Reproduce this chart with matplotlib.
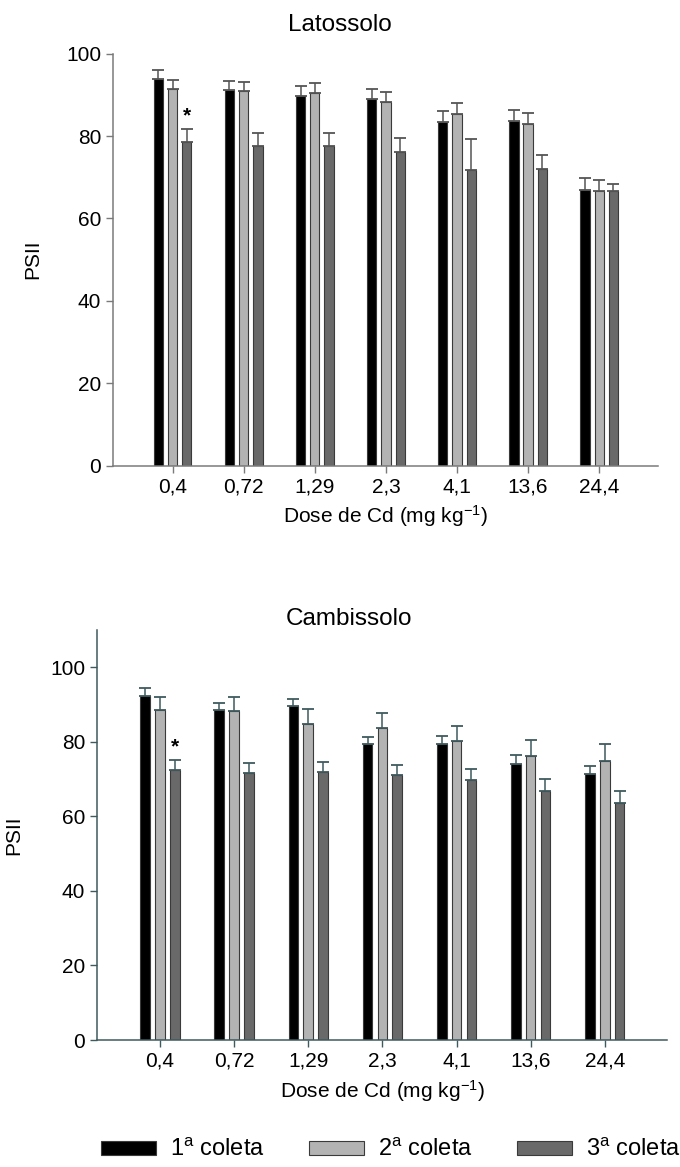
import numpy as np
import matplotlib
matplotlib.use("Agg")
import matplotlib.pyplot as plt
from matplotlib.patches import Patch

plt.rcParams['font.family'] = ['Liberation Sans', 'DejaVu Sans']
plt.rcParams['mathtext.fontset'] = 'custom'
plt.rcParams['mathtext.rm'] = 'Liberation Sans'
plt.rcParams['mathtext.it'] = 'Liberation Sans:italic'

# Data
doses = ["0,4", "0,72", "1,29", "2,3", "4,1", "13,6", "24,4"]
series = ["1$^{\\mathrm{a}}$ coleta", "2$^{\\mathrm{a}}$ coleta", "3$^{\\mathrm{a}}$ coleta"]

lat_1 = [93.8, 91.2, 89.7, 89.0, 83.3, 83.7, 66.9]
lat_2 = [91.4, 90.9, 90.5, 88.2, 85.4, 82.9, 66.6]
lat_3 = [78.6, 77.6, 77.6, 76.2, 71.7, 72.0, 66.7]
lat_1_err = [2.2, 2.1, 2.5, 2.4, 2.7, 2.6, 3.0]
lat_2_err = [2.1, 2.2, 2.3, 2.4, 2.6, 2.8, 2.7]
lat_3_err = [3.0, 3.2, 3.2, 3.3, 7.7, 3.4, 1.7]

cam_1 = [92.3, 88.5, 89.5, 79.3, 79.4, 74.1, 71.4]
cam_2 = [88.5, 88.3, 84.8, 83.7, 80.3, 76.2, 74.9]
cam_3 = [72.4, 71.5, 71.9, 71.0, 69.7, 66.8, 63.5]
cam_1_err = [2.0, 1.8, 1.9, 1.9, 2.1, 2.3, 2.2]
cam_2_err = [3.5, 3.7, 3.9, 4.0, 3.9, 4.3, 4.4]
cam_3_err = [2.7, 2.9, 2.8, 2.9, 3.0, 3.1, 3.3]

COLORS = ['#000000', '#b3b3b3', '#696969']
EDGE = '#3a3a3a'
FS = 15


def draw_panel(ax, vals, errs, spine_color, err_color, ylim, yticks, xlim):
    x = np.arange(len(doses))
    offsets = [-0.2, 0.0, 0.2]
    for v, e, c, off in zip(vals, errs, COLORS, offsets):
        ax.bar(x + off, v, width=0.13, color=c, edgecolor=EDGE, linewidth=0.8, zorder=2)
        ax.errorbar(x + off, v, yerr=[np.zeros(len(v)), e], fmt='none',
                    ecolor=err_color, elinewidth=1.1, capsize=4, capthick=1.3, zorder=3)
    ax.set_xlim(*xlim)
    ax.set_ylim(*ylim)
    ax.set_yticks(yticks)
    ax.set_xticks(x)
    ax.set_xticklabels(doses)
    for s in ['top', 'right']:
        ax.spines[s].set_visible(False)
    for s in ['left', 'bottom']:
        ax.spines[s].set_color(spine_color)
        ax.spines[s].set_linewidth(1.1)
    ax.tick_params(axis='both', colors=spine_color, labelcolor='black',
                   labelsize=FS, length=5, width=1.0, direction='out')
    ax.set_xlabel("Dose de Cd (mg kg$^{-1}$)", fontsize=FS, labelpad=5)
    ax.set_ylabel("PSII", fontsize=FS)
    ax.yaxis.set_label_coords(-0.13, 0.5)
    # significance mark above the 3rd bar of the first group
    ax.text(x[0] + offsets[2], vals[2][0] + errs[2][0] + 1.0, "*",
            ha='center', va='bottom', fontsize=FS, fontweight='bold')


fig = plt.figure(figsize=(6.8, 11.67), dpi=100)

ax1 = fig.add_axes([0.166, 0.601, 0.802, 0.353])
draw_panel(ax1, [lat_1, lat_2, lat_3], [lat_1_err, lat_2_err, lat_3_err],
           '#7a7a7a', '#555555', (0, 100), range(0, 101, 20), (-0.84, 6.83))
fig.text(340 / 680, 1 - 25 / 1167, "Latossolo", ha='center', va='center', fontsize=17.5)

ax2 = fig.add_axes([0.1426, 0.1088, 0.8384, 0.3514])
draw_panel(ax2, [cam_1, cam_2, cam_3], [cam_1_err, cam_2_err, cam_3_err],
           '#3f5a5e', '#3f5a5e', (0, 110), range(0, 101, 20), (-0.85, 6.84))
fig.text(349 / 680, 1 - 619 / 1167, "Cambissolo", ha='center', va='center', fontsize=17.5)

handles = [Patch(facecolor=c, edgecolor=EDGE, linewidth=0.8) for c in COLORS]
fig.legend(handles, series, loc='center', bbox_to_anchor=(391 / 680, 1 - 1150 / 1167),
           ncol=3, frameon=False, fontsize=17, handlelength=2.33, handleheight=0.53,
           handletextpad=0.6, columnspacing=1.86, borderaxespad=0, borderpad=0)

fig.savefig("out.png", dpi=100)
